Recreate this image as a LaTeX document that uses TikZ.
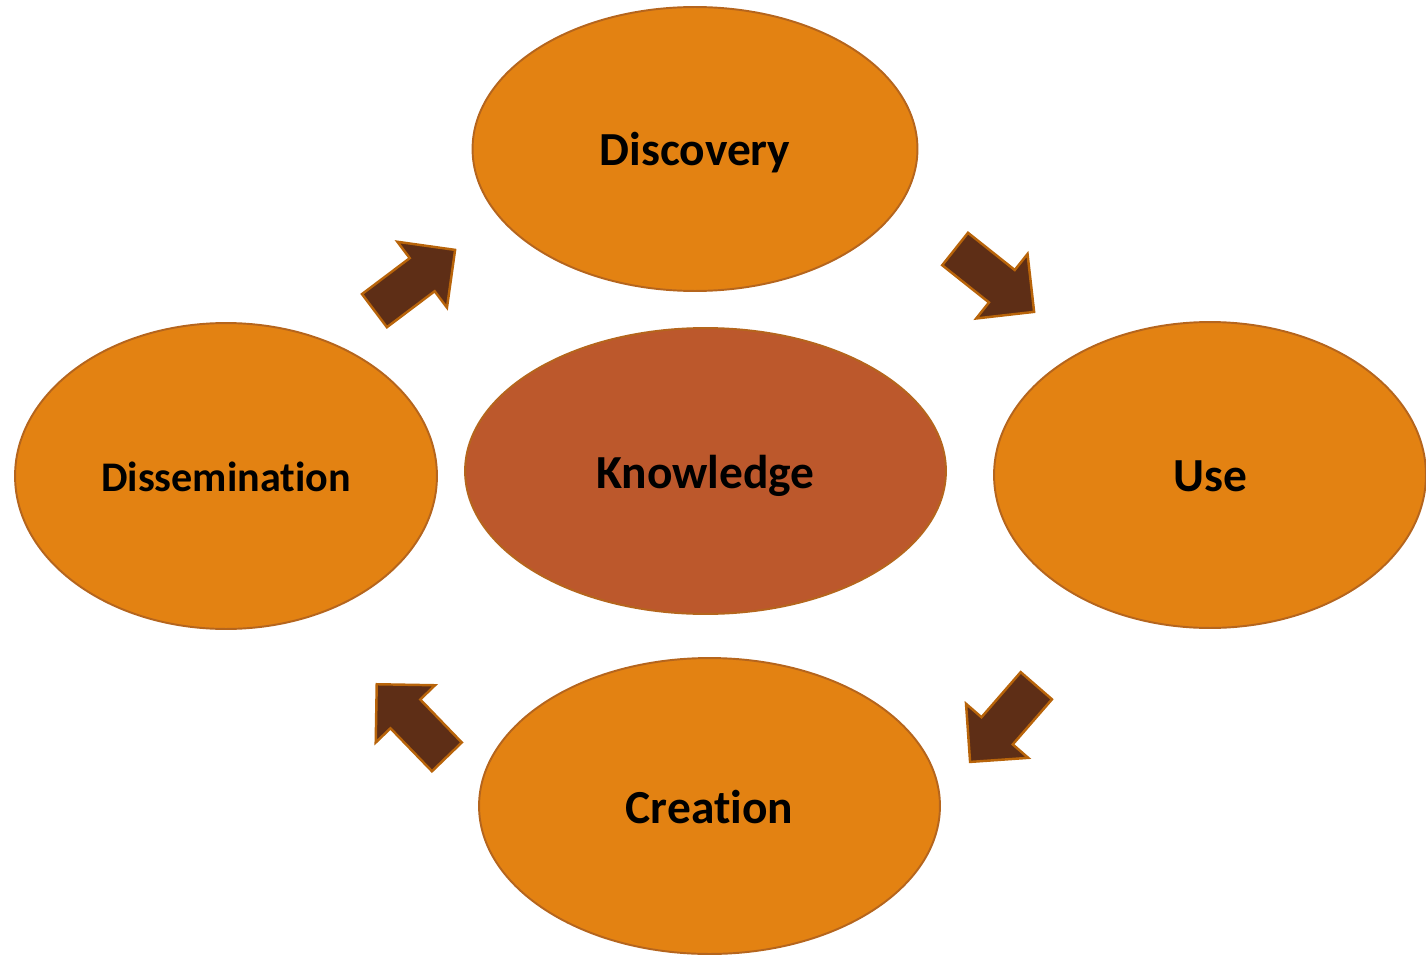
\documentclass[tikz,border=0pt]{standalone}
\usepackage{fontspec}
\setmainfont{Carlito}[Ligatures=NoCommon]
\usepackage{tikz}
\usetikzlibrary{shapes.geometric,shapes.arrows}
\definecolor{stageorange}{RGB}{227,130,18}
\definecolor{stageline}{RGB}{181,101,29}
\definecolor{coreorange}{RGB}{188,88,44}
\definecolor{arrowbrown}{RGB}{94,46,22}
\definecolor{arrowline}{RGB}{184,100,10}

\begin{document}
\begin{tikzpicture}[x=0.02cm,y=-0.02cm,
  stage/.style={ellipse,draw=stageline,line width=1.1pt,fill=stageorange,inner sep=0pt,
    text height=0.68cm,text depth=0pt,font=\fontsize{27}{32}\selectfont\bfseries},
  flow/.style={single arrow,draw=arrowline,line width=1.4pt,fill=arrowbrown,inner sep=0.39cm,
    single arrow head extend=0.41cm,minimum height=2.02cm,anchor=center}]
\useasboundingbox (0,0) rectangle (1426,956);
% cycle stages
\node[stage,minimum width=8.9cm,minimum height=5.68cm] (discovery) at (695,149) {Discovery};
\node[stage,minimum width=8.64cm,minimum height=6.12cm] (use) at (1210,475) {Use};
\node[stage,minimum width=9.22cm,minimum height=5.92cm] (creation) at (709.5,806) {Creation};
\node[stage,minimum width=8.44cm,minimum height=6.12cm,text height=0.6cm,
  font=\fontsize{24}{29}\selectfont\bfseries] (dissemination) at (226,476) {Dissemination};
\node[stage,fill=coreorange,minimum width=9.62cm,minimum height=5.72cm] (knowledge) at (705.5,471) {Knowledge};
% block arrows between stages
\node[flow,rotate=37] (toDiscovery) at (406.5,286.5) {};
\node[flow,rotate=-38.5] (toUse) at (986.5,274) {};
\node[flow,rotate=229] (toCreation) at (1010,716) {};
\node[flow,rotate=134] (toDissemination) at (419,728) {};
\end{tikzpicture}
\end{document}
